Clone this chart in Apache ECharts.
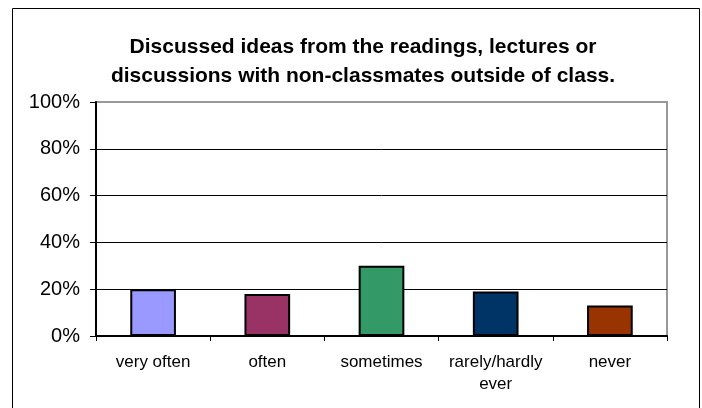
<!DOCTYPE html>
<html>
<head>
<meta charset="utf-8">
<script src="https://cdn.jsdelivr.net/npm/echarts@6/dist/echarts.min.js"></script>
<style>
  html, body { margin: 0; padding: 0; background: #fff; }
  #chart { width: 702px; height: 408px; }
</style>
</head>
<body>
<div id="chart"></div>
<script>
// survey answers, share of respondents in %
const categories = ['very often', 'often', 'sometimes', 'rarely/hardly\never', 'never'];
const shares = [20, 18, 30, 19, 13];
const barColors = ['#9999FF', '#993366', '#339966', '#003366', '#993300'];

const titleText = 'Discussed ideas from the readings, lectures or\ndiscussions with non-classmates outside of class.';
const font = 'Liberation Sans';

const chart = echarts.init(document.getElementById('chart'));

const option = {
    animation: false,
    backgroundColor: '#fff',
    title: {
        text: titleText,
        left: 358,
        top: 28,
        textAlign: 'center',
        textStyle: {
            fontFamily: font,
            fontWeight: 'bold',
            fontSize: 21,
            lineHeight: 29,
            color: '#000'
        }
    },
    graphic: [
        {
            type: 'rect',
            silent: true,
            shape: { x: 12.5, y: 8.5, width: 687, height: 430 },
            style: { fill: 'none', stroke: '#000', lineWidth: 1 }
        }
    ],
    grid: {
        left: 96,
        right: 35,
        top: 102,
        bottom: 72,
        show: true,
        borderColor: '#999',
        borderWidth: 2,
        backgroundColor: '#fff'
    },
    xAxis: {
        type: 'category',
        data: categories,
        axisLine: { lineStyle: { color: '#000', width: 2 } },
        axisTick: { show: true, length: 5, lineStyle: { color: '#000', width: 1 } },
        axisLabel: {
            interval: 0,
            margin: 15,
            fontFamily: font,
            fontSize: 17,
            lineHeight: 22,
            color: '#000'
        }
    },
    yAxis: {
        type: 'value',
        min: 0,
        max: 100,
        interval: 20,
        axisLine: { show: true, lineStyle: { color: '#000', width: 2 } },
        axisTick: { show: true, length: 6, lineStyle: { color: '#000', width: 1 } },
        axisLabel: {
            formatter: '{value}%',
            margin: 16,
            fontFamily: font,
            fontSize: 20,
            color: '#000'
        },
        splitLine: {
            show: true,
            lineStyle: { color: ['#000', '#000', '#000', '#000', '#000', '#999'], width: 1 }
        }
    },
    series: [
        {
            type: 'bar',
            data: shares.map((v, i) => ({
                value: v,
                itemStyle: { color: barColors[i] }
            })),
            barWidth: '40%',
            itemStyle: { borderColor: '#000', borderWidth: 2 }
        }
    ]
};

chart.setOption(option);
</script>
</body>
</html>
